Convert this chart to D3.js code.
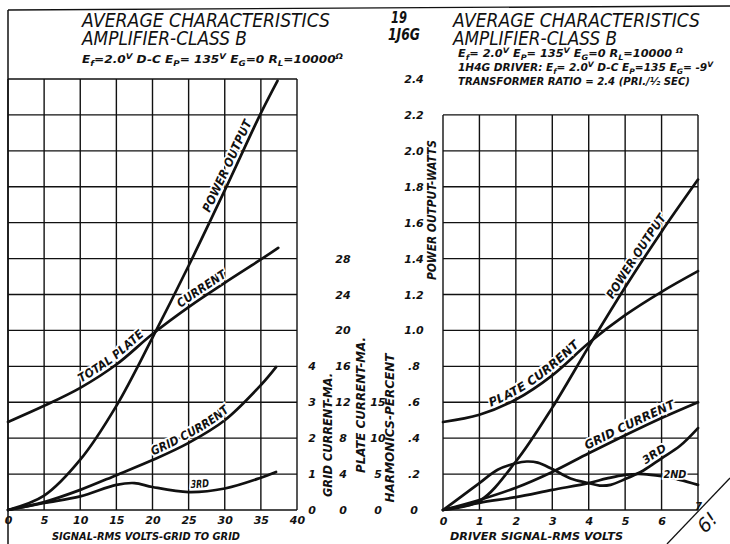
<!DOCTYPE html>
<html><head><meta charset="utf-8">
<script src="https://cdn.jsdelivr.net/npm/d3@7"></script>
<style>
html,body{margin:0;padding:0;background:#fff;}
svg{display:block;background:#fff;}
text{font-family:"DejaVu Sans",sans-serif;font-style:oblique;fill:#111;}
</style></head><body>
<svg id="c" width="730" height="544"></svg>
<script>
// ---------------- DATA ----------------
// Left chart: signal RMS volts grid-to-grid
const leftPowerV  = [0, 5, 10, 15, 20, 25, 30, 35, 37.3];
const leftPowerW  = [0, 0.08, 0.28, 0.58, 0.96, 1.36, 1.78, 2.21, 2.39];
const leftPlateV  = [0, 5, 10, 15, 20, 25, 30, 35, 37.4];
const leftPlateMA = [9.8, 11.6, 13.6, 16.2, 19.6, 22.6, 25.3, 27.9, 29.2];
const leftGridV   = [0, 5, 10, 15, 20, 25, 30, 35, 37.1];
const leftGridMA  = [0, 0.22, 0.56, 0.97, 1.39, 1.87, 2.5, 3.48, 3.98];
const left3rdV    = [0, 5, 10, 15, 17.5, 20, 25, 30, 35, 37.1];
const left3rdPct  = [0, 0.97, 1.9, 3.5, 3.75, 3.2, 2.5, 3.0, 4.5, 5.3];
// Right chart: driver signal RMS volts
const rightDrive   = [0, 1, 2, 3, 4, 5, 6, 7];
const rightPowerW  = [0, 0.05, 0.27, 0.57, 0.91, 1.24, 1.55, 1.84];
const rightPlateMA = [9.8, 10.6, 12.3, 15.0, 18.6, 21.7, 24.3, 26.6];
const rightGridMA  = [0, 0.28, 0.62, 1.06, 1.58, 2.08, 2.56, 3.0];
const right2ndV    = [0, 1, 2, 3, 4, 4.5, 5, 5.5, 6, 6.5, 7];
const right2ndPct  = [0, 1.0, 1.8, 2.8, 3.75, 4.4, 4.9, 5.0, 4.7, 4.2, 3.5];
const right3rdV    = [0, 0.5, 1, 1.5, 2, 2.3, 2.6, 3, 3.5, 4, 4.3, 4.6, 5, 5.5, 6, 6.5, 7];
const right3rdPct  = [0, 1.85, 3.75, 5.6, 6.5, 6.75, 6.6, 5.7, 4.4, 3.75, 3.4, 3.5, 4.3, 5.5, 7.2, 8.9, 11.4];
// Tick labels
const leftSignalTicks = [0, 5, 10, 15, 20, 25, 30, 35, 40];
const rightDriveTicks = [0, 1, 2, 3, 4, 5, 6];
const gridCurrentTicks = [0, 1, 2, 3, 4];
const plateCurrentTicks = [0, 4, 8, 12, 16, 20, 24, 28];
const harmonicTicks = [0, 5, 10, 15];
const powerTicks = [0, 0.2, 0.4, 0.6, 0.8, 1.0, 1.2, 1.4, 1.6, 1.8, 2.0, 2.2, 2.4];
const powerTickLabels = ["0", ".2", ".4", ".6", ".8", "1.0", "1.2", "1.4", "1.6", "1.8", "2.0", "2.2", "2.4"];

// ---------------- SCALES ----------------
const svg = d3.select("#c");
const ink = "#111";
const xL = d3.scaleLinear().domain([0, 40]).range([8, 297]);
const xR = d3.scaleLinear().domain([0, 7]).range([443, 698]);
const yPower = d3.scaleLinear().domain([0, 2.4]).range([510, 79]);
const yPlate = d3.scaleLinear().domain([0, 48]).range([510, 79]);
const yGrid = d3.scaleLinear().domain([0, 12]).range([510, 79]);
const yHarm = d3.scaleLinear().domain([0, 60]).range([510, 79]);

// page border
svg.append("line").attr("x1", 8).attr("y1", 10).attr("x2", 730).attr("y2", 6)
  .attr("stroke", ink).attr("stroke-width", 1.3);
svg.append("line").attr("x1", 8).attr("y1", 10).attr("x2", 8).attr("y2", 544)
  .attr("stroke", ink).attr("stroke-width", 1.5);

// ---------------- GRIDS ----------------
const gridG = svg.append("g").attr("stroke", ink).attr("stroke-width", 1.4).attr("fill", "none");
gridG.append("g").selectAll("line").data(leftSignalTicks).join("line")
  .attr("x1", d => xL(d)).attr("x2", d => xL(d)).attr("y1", yPower(0)).attr("y2", yPower(2.4));
gridG.append("g").selectAll("line").data(powerTicks).join("line")
  .attr("x1", xL(0)).attr("x2", xL(40)).attr("y1", d => yPower(d)).attr("y2", d => yPower(d));
const rightRowVals = powerTicks.filter(d => d <= 2.2 + 1e-9);
gridG.append("g").selectAll("line").data(d3.range(0, 8)).join("line")
  .attr("x1", d => xR(d)).attr("x2", d => xR(d)).attr("y1", yPower(0)).attr("y2", yPower(2.2));
gridG.append("g").selectAll("line").data(rightRowVals).join("line")
  .attr("x1", xR(0)).attr("x2", xR(7)).attr("y1", d => yPower(d)).attr("y2", d => yPower(d));

// ---------------- CURVES ----------------
const curveG = svg.append("g").attr("fill", "none").attr("stroke", ink)
  .attr("stroke-width", 2.7).attr("stroke-linejoin", "round").attr("stroke-linecap", "round");
function addCurve(id, xs, ys, sx, sy) {
  const pts = xs.map((x, i) => [sx(x), sy(ys[i])]);
  const line = d3.line().curve(d3.curveCatmullRom.alpha(0.5));
  return curveG.append("path").attr("id", id).attr("d", line(pts));
}
addCurve("lPower", leftPowerV, leftPowerW, xL, yPower);
addCurve("lPlate", leftPlateV, leftPlateMA, xL, yPlate);
addCurve("lGrid", leftGridV, leftGridMA, xL, yGrid);
addCurve("l3rd", left3rdV, left3rdPct, xL, yHarm);
addCurve("rPower", rightDrive, rightPowerW, xR, yPower);
addCurve("rPlate", rightDrive, rightPlateMA, xR, yPlate);
addCurve("rGrid", rightDrive, rightGridMA, xR, yGrid);
addCurve("r2nd", right2ndV, right2ndPct, xR, yHarm);
addCurve("r3rd", right3rdV, right3rdPct, xR, yHarm);

// ---------------- CURVE LABELS ----------------
function lenAtX(node, x) {
  let lo = 0, hi = node.getTotalLength();
  for (let i = 0; i < 40; i++) {
    const mid = (lo + hi) / 2;
    if (node.getPointAtLength(mid).x < x) lo = mid; else hi = mid;
  }
  return lo;
}
function pathLabel(id, sx, fromVal, label, size, len, dy) {
  const node = document.getElementById(id);
  const off = lenAtX(node, sx(fromVal));
  svg.append("text").attr("font-size", size).attr("font-weight", "bold")
    .attr("dy", dy)
    .attr("stroke", "#fff").attr("stroke-width", 3.5).attr("paint-order", "stroke")
    .attr("textLength", len).attr("lengthAdjust", "spacingAndGlyphs")
    .append("textPath").attr("href", "#" + id).attr("startOffset", off).text(label);
}
pathLabel("lPower", xL, 28.4, "POWER OUTPUT", 12, 100, -4);
pathLabel("lPlate", xL, 10.4, "TOTAL PLATE", 12, 80, -4);
pathLabel("lPlate", xL, 24.2, "CURRENT", 12, 56, -4);
pathLabel("lGrid", xL, 20.3, "GRID CURRENT", 12, 90, -4);
pathLabel("l3rd", xL, 25.3, "3RD", 11, 19, -4);
pathLabel("rPower", xR, 4.75, "POWER OUTPUT", 12, 98, -4);
pathLabel("rPlate", xR, 1.35, "PLATE CURRENT", 12, 110, -4);
pathLabel("rGrid", xR, 4.0, "GRID CURRENT", 12, 98, -4);
pathLabel("r3rd", xR, 5.62, "3RD", 11, 26, -4);
// 2ND label with leader
svg.append("text").attr("x", xR(6.05)).attr("y", 478).attr("font-size", 11).attr("font-weight", "bold")
  .attr("stroke", "#fff").attr("stroke-width", 3.5).attr("paint-order", "stroke")
  .attr("textLength", 23).attr("lengthAdjust", "spacingAndGlyphs").text("2ND");
svg.append("line").attr("x1", xR(6)).attr("x2", xR(6)).attr("y1", yHarm(7.2)).attr("y2", 470)
  .attr("stroke", ink).attr("stroke-width", 1.3);

// ---------------- AXES ----------------
function styleAxis(g, size) {
  g.select(".domain").remove();
  g.selectAll("text").attr("font-size", size).attr("font-weight", "bold")
    .attr("font-family", "DejaVu Sans").attr("font-style", "oblique").attr("fill", ink);
}
const gxL = svg.append("g").attr("transform", "translate(0,514)")
  .call(d3.axisBottom(xL).tickValues(leftSignalTicks).tickSize(0).tickPadding(2).tickFormat(d3.format("d")));
styleAxis(gxL, 11);
const gxR = svg.append("g").attr("transform", "translate(0,515)")
  .call(d3.axisBottom(xR).tickValues(rightDriveTicks).tickSize(0).tickPadding(2).tickFormat(d3.format("d")));
styleAxis(gxR, 11);
svg.append("text").attr("x", xR(7) - 3).attr("y", 510).attr("font-size", 10).attr("font-weight", "bold").text("7");

function vAxis(scale, ticks, fmt, x) {
  const g = svg.append("g").attr("transform", `translate(${x},0)`)
    .call(d3.axisRight(scale).tickValues(ticks).tickSize(0).tickPadding(0).tickFormat(fmt));
  styleAxis(g, 11);
  g.selectAll("text").attr("text-anchor", "middle").attr("x", 0);
  return g;
}
vAxis(yGrid, gridCurrentTicks, d3.format("d"), 312);
vAxis(yPlate, plateCurrentTicks, d3.format("d"), 343);
vAxis(yHarm, harmonicTicks, d3.format("d"), 378);
vAxis(yPower, powerTicks, (d, i) => powerTickLabels[i], 414);

// axis titles
function rotLabel(cx, cy, label, len) {
  svg.append("text").attr("transform", `translate(${cx},${cy}) rotate(-90)`)
    .attr("text-anchor", "middle").attr("font-size", 12).attr("font-weight", "bold")
    .attr("textLength", len).attr("lengthAdjust", "spacingAndGlyphs").text(label);
}
rotLabel(332, 435, "GRID CURRENT-MA.", 124);
rotLabel(365, 405, "PLATE CURRENT-MA.", 136);
rotLabel(394, 428, "HARMONICS-PERCENT", 149);
rotLabel(436, 210, "POWER OUTPUT-WATTS", 140);

function plain(x, y, label, size, len, weight) {
  return svg.append("text").attr("x", x).attr("y", y).attr("font-size", size)
    .attr("font-weight", weight || "bold")
    .attr("textLength", len).attr("lengthAdjust", "spacingAndGlyphs").text(label);
}
plain(52, 540, "SIGNAL-RMS VOLTS-GRID TO GRID", 11, 188);
plain(450, 540, "DRIVER SIGNAL-RMS VOLTS", 11, 173);

// ---------------- TITLES ----------------
plain(82, 27, "AVERAGE CHARACTERISTICS", 19, 248, "normal");
plain(82, 45, "AMPLIFIER-CLASS B", 19, 165, "normal");
plain(453, 27, "AVERAGE CHARACTERISTICS", 19, 247, "normal");
plain(453, 45, "AMPLIFIER-CLASS B", 19, 164, "normal");
plain(391, 23, "19", 15, 16);
plain(388, 40, "1J6G", 15, 32);

function rich(x, y, parts, size, len) {
  const t = svg.append("text").attr("x", x).attr("y", y).attr("font-size", size)
    .attr("font-weight", "bold").attr("textLength", len).attr("lengthAdjust", "spacingAndGlyphs");
  let shift = 0;
  parts.forEach(p => {
    const [s, kind] = Array.isArray(p) ? p : [p, ""];
    const target = kind === "sub" ? 3 : kind === "sup" ? -4 : 0;
    const ts = t.append("tspan").attr("dy", target - shift).text(s);
    if (kind) ts.attr("font-size", size * 0.72);
    shift = target;
  });
}
rich(82, 63, ["E", ["f", "sub"], "=2.0", ["V", "sup"], " D-C   E", ["P", "sub"], "= 135", ["V", "sup"],
  "   E", ["G", "sub"], "=0   R", ["L", "sub"], "=10000", ["Ω", "sup"]], 11, 261);
rich(458, 57, ["E", ["f", "sub"], "= 2.0", ["V", "sup"], "  E", ["P", "sub"], "= 135", ["V", "sup"],
  "  E", ["G", "sub"], "=0  R", ["L", "sub"], "=10000 ", ["Ω", "sup"]], 10.5, 225);
rich(458, 71, ["1H4G DRIVER: E", ["f", "sub"], "= 2.0", ["V", "sup"], " D-C  E", ["P", "sub"], "=135  E", ["G", "sub"], "= -9", ["V", "sup"]], 10.5, 255);
rich(458, 85, ["TRANSFORMER RATIO = 2.4 (PRI./½ SEC)"], 10.5, 232);

// corner page number
svg.append("line").attr("x1", 667).attr("y1", 544).attr("x2", 730).attr("y2", 478)
  .attr("stroke", ink).attr("stroke-width", 1.3);
svg.append("text").attr("transform", "translate(712,527) rotate(-45)").attr("text-anchor", "middle")
  .attr("font-size", 19).attr("font-weight", "normal").text("6!");
</script>
</body></html>
